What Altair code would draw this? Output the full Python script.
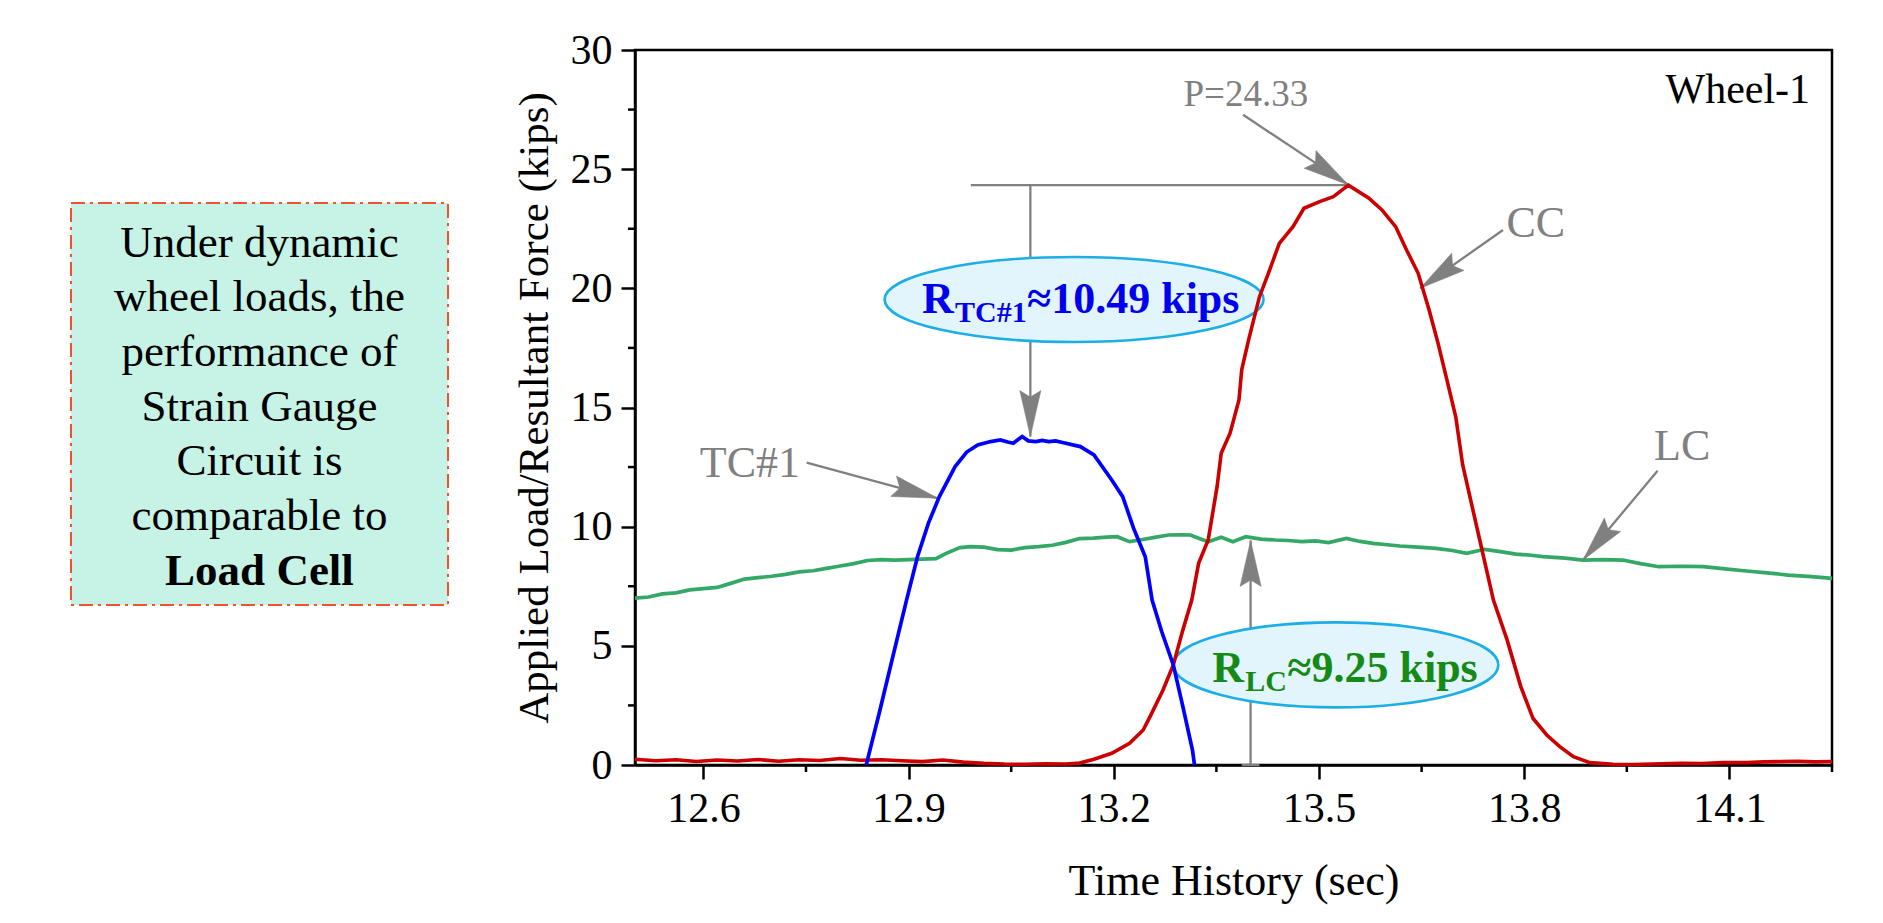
import math
import altair as alt
import pandas as pd

# ---------------- data ----------------
# TC#1 (strain gauge circuit)
tc1_t = [12.838, 12.857, 12.877, 12.897, 12.913, 12.929, 12.945, 12.968, 12.985, 13.001,
         13.020, 13.034, 13.045, 13.053, 13.066, 13.075, 13.086, 13.095, 13.105, 13.115,
         13.125, 13.151, 13.171, 13.197, 13.213, 13.229, 13.246, 13.256, 13.270, 13.287,
         13.301, 13.315, 13.318]
tc1_v = [0.0, 2.17, 4.55, 6.92, 8.74, 10.15, 11.26, 12.52, 13.13, 13.43,
         13.57, 13.64, 13.55, 13.50, 13.78, 13.60, 13.57, 13.62, 13.57, 13.60,
         13.53, 13.36, 13.01, 11.96, 11.26, 9.93, 8.74, 6.92, 5.60, 4.20,
         2.45, 0.63, 0.0]

# CC (applied load)
cc_t = [12.50, 12.53, 12.56, 12.59, 12.62, 12.65, 12.68, 12.71, 12.74, 12.77,
        12.80, 12.83, 12.86, 12.89, 12.92, 12.95, 12.98, 13.01, 13.04, 13.07,
        13.10, 13.13, 13.15, 13.171, 13.197, 13.223, 13.243, 13.253, 13.272, 13.287,
        13.301, 13.314, 13.324, 13.338, 13.351, 13.357, 13.370, 13.383, 13.387, 13.397,
        13.413, 13.426, 13.442, 13.462, 13.478, 13.501, 13.521, 13.543, 13.573, 13.592,
        13.612, 13.628, 13.645, 13.661, 13.674, 13.687, 13.700, 13.710, 13.735, 13.755,
        13.775, 13.795, 13.813, 13.833, 13.852, 13.872, 13.896, 13.930, 13.960, 14.000,
        14.030, 14.060, 14.090, 14.125, 14.150, 14.175, 14.200, 14.225, 14.250]
cc_v = [0.24, 0.18, 0.22, 0.15, 0.21, 0.17, 0.23, 0.16, 0.22, 0.19,
        0.27, 0.20, 0.22, 0.18, 0.14, 0.21, 0.12, 0.07, 0.04, 0.03,
        0.05, 0.04, 0.08, 0.24, 0.49, 0.91, 1.47, 2.03, 3.15, 4.20,
        5.67, 6.92, 8.46, 9.44, 11.68, 13.08, 13.92, 15.32, 16.58, 17.83,
        19.65, 20.63, 21.89, 22.59, 23.36, 23.64, 23.85, 24.33, 23.78, 23.29,
        22.59, 21.61, 20.63, 19.09, 17.70, 16.16, 14.60, 12.60, 9.44, 6.92,
        5.25, 3.29, 1.95, 1.26, 0.77, 0.35, 0.10, 0.03, 0.02, 0.05,
        0.07, 0.06, 0.10, 0.10, 0.13, 0.14, 0.16, 0.13, 0.15]

# LC (load cell)
lc_t = [12.50, 12.52, 12.54, 12.56, 12.58, 12.60, 12.62, 12.64, 12.66, 12.68,
        12.70, 12.72, 12.74, 12.76, 12.78, 12.80, 12.82, 12.84, 12.86, 12.88,
        12.90, 12.92, 12.94, 12.955, 12.975, 12.99, 13.01, 13.03, 13.05, 13.07,
        13.09, 13.11, 13.13, 13.15, 13.17, 13.19, 13.205, 13.223, 13.24, 13.26,
        13.28, 13.30, 13.312, 13.325, 13.338, 13.357, 13.374, 13.393, 13.415, 13.436,
        13.455, 13.475, 13.495, 13.514, 13.54, 13.56, 13.579, 13.60, 13.618, 13.645,
        13.671, 13.695, 13.716, 13.742, 13.765, 13.788, 13.81, 13.827, 13.86, 13.886,
        13.915, 13.944, 13.97, 13.997, 14.03, 14.062, 14.09, 14.121, 14.155, 14.186,
        14.22, 14.25]
lc_v = [7.00, 7.05, 7.18, 7.22, 7.35, 7.40, 7.45, 7.62, 7.80, 7.86,
        7.92, 8.00, 8.10, 8.15, 8.25, 8.35, 8.45, 8.58, 8.62, 8.60,
        8.62, 8.64, 8.66, 8.88, 9.12, 9.16, 9.14, 9.04, 9.02, 9.12,
        9.16, 9.22, 9.34, 9.50, 9.52, 9.56, 9.58, 9.37, 9.45, 9.55,
        9.65, 9.66, 9.65, 9.50, 9.37, 9.56, 9.37, 9.58, 9.48, 9.44,
        9.42, 9.37, 9.40, 9.33, 9.51, 9.38, 9.30, 9.24, 9.19, 9.14,
        9.09, 9.00, 8.88, 9.05, 8.95, 8.85, 8.80, 8.74, 8.68, 8.60,
        8.62, 8.60, 8.45, 8.32, 8.34, 8.32, 8.24, 8.15, 8.06, 7.97,
        7.90, 7.83]

# axes
x_domain = [12.5, 14.25]
y_domain = [0, 30]
x_ticks = [12.6, 12.9, 13.2, 13.5, 13.8, 14.1]
x_minor = [12.75, 13.05, 13.35, 13.65, 13.95, 14.25]
y_ticks = [0, 5, 10, 15, 20, 25, 30]
y_minor = [2.5, 7.5, 12.5, 17.5, 22.5, 27.5]

# annotation texts
gray_labels = ["P=24.33", "CC", "TC#1", "LC"]
gray_label_t = [13.393, 13.817, 12.668, 14.031]
gray_label_v = [27.67, 22.17, 12.10, 12.80]
gray_label_size = [37, 44, 44, 44]

# arrows: from (t0, v0) to tip (t1, v1)
arrow_t0 = [13.389, 13.769, 12.751, 13.995, 13.078, 13.400]
arrow_v0 = [27.28, 22.45, 12.69, 12.35, 24.33, 0.0]
arrow_t1 = [13.543, 13.648, 12.943, 13.886, 13.078, 13.400]
arrow_v1 = [24.34, 20.00, 11.19, 8.60, 13.78, 9.42]
# plain connector lines
line_t0 = [12.991, 13.387]
line_v0 = [24.33, 0.0]
line_t1 = [13.543, 13.413]
line_v1 = [24.33, 0.0]

# result call-outs
callout_main = ["R", "R"]
callout_sub = ["TC#1", "LC"]
callout_rest = ["\u224810.49 kips", "\u22489.25 kips"]
callout_color = ["#0000ee", "#168a16"]
callout_t = [12.9196, 13.3440]
callout_v = [18.98, 3.49]
ellipse_t = [13.142, 13.5246]
ellipse_v = [19.53, 4.20]

box_lines = ["Under dynamic", "wheel loads, the", "performance of",
             "Strain Gauge", "Circuit is", "comparable to"]
box_bold = "Load Cell"

# ---------------- layout / style ----------------
W, H = 1197, 715
PX_T = W / (x_domain[1] - x_domain[0])
PX_V = H / (y_domain[1] - y_domain[0])
FONT = "Liberation Serif"
GRAY = "#808080"

xs = alt.Scale(domain=x_domain, nice=False, zero=False)
ys = alt.Scale(domain=y_domain, nice=False, zero=False)
x_axis = alt.Axis(values=x_ticks, format=".1f", title="Time History (sec)", grid=False,
                  tickSize=14, tickWidth=2.5, tickColor="black", domainColor="black",
                  domainWidth=2.5, labelFont=FONT, labelFontSize=42, labelColor="black",
                  labelPadding=9, labelFlush=False, titleFont=FONT, titleFontSize=44,
                  titleFontWeight="normal", titleColor="black", titlePadding=30)
y_axis = alt.Axis(values=y_ticks, format="d", title="Applied Load/Resultant Force (kips)",
                  grid=False, tickSize=14, tickWidth=2.5, tickColor="black",
                  domainColor="black", domainWidth=2.5, labelFont=FONT, labelFontSize=42,
                  labelColor="black", labelPadding=9, labelFlush=False, titleFont=FONT,
                  titleFontSize=43, titleFontWeight="normal", titleColor="black",
                  titlePadding=14)
X = alt.X("t:Q", scale=xs, axis=x_axis)
Y = alt.Y("v:Q", scale=ys, axis=y_axis)


def series(ts, vs):
    return pd.DataFrame({"t": ts, "v": vs})


lc_line = alt.Chart(series(lc_t, lc_v)).mark_line(color="#33a867", strokeWidth=3.7).encode(x=X, y=Y)
cc_line = alt.Chart(series(cc_t, cc_v)).mark_line(color="#cc0000", strokeWidth=3.6).encode(x=X, y=Y)
tc_line = alt.Chart(series(tc1_t, tc1_v)).mark_line(color="#0000ff", strokeWidth=3.7).encode(x=X, y=Y)

# minor ticks
xminor = alt.Chart(pd.DataFrame({"t": x_minor})).mark_rule(color="black", strokeWidth=2.5).encode(
    x=X, y=alt.value(H), y2=alt.value(H + 7))
yminor = alt.Chart(pd.DataFrame({"v": y_minor})).mark_rule(color="black", strokeWidth=2.5).encode(
    y=Y, x=alt.value(0), x2=alt.value(-7))

# arrows
arr = pd.DataFrame({"t": arrow_t0, "v": arrow_v0, "t2": arrow_t1, "v2": arrow_v1})
ang = []
for a, b, c, d in zip(arrow_t0, arrow_v0, arrow_t1, arrow_v1):
    dx = (c - a) * PX_T
    dy = -(d - b) * PX_V
    ang.append(math.degrees(math.atan2(dx, -dy)) % 360)
heads = pd.DataFrame({"t": arrow_t1, "v": arrow_v1, "ang": ang})
shafts = alt.Chart(arr).mark_rule(color=GRAY, strokeWidth=2.3).encode(
    x=X, y=Y, x2="t2:Q", y2="v2:Q")
plain = alt.Chart(pd.DataFrame({"t": line_t0, "v": line_v0, "t2": line_t1, "v2": line_v1})).mark_rule(
    color=GRAY, strokeWidth=2.3).encode(x=X, y=Y, x2="t2:Q", y2="v2:Q")
head_path = "M0,0L0.46,2L0,1.72L-0.46,2Z"
head_mark = alt.Chart(heads).mark_point(shape=head_path, size=2116, filled=True, fill=GRAY,
                                        stroke=GRAY, strokeWidth=0.5, opacity=1).encode(
    x=X, y=Y, angle=alt.Angle("ang:Q", scale=None))

# ellipses
def ellipse(i, width_px, height_px):
    ry = height_px / width_px
    path = f"M-1,0A1,{ry:.4f} 0 1,1 1,0A1,{ry:.4f} 0 1,1 -1,0Z"
    return alt.Chart(pd.DataFrame({"t": [ellipse_t[i]], "v": [ellipse_v[i]]})).mark_point(
        shape=path, size=width_px ** 2, filled=True, fill="#e3f5fc", stroke="#1eaee6",
        strokeWidth=2.6, opacity=1, fillOpacity=1, strokeOpacity=1).encode(x=X, y=Y)

ell1 = ellipse(0, 379, 85)
ell2 = ellipse(1, 325, 85)

# call-out texts (main letter, subscript, remainder)
sub_offset = [33, 33]
rest_offset = [33 + 72, 33 + 42]
co = pd.DataFrame({
    "main": callout_main, "sub": callout_sub, "rest": callout_rest, "col": callout_color,
    "t": callout_t, "v": callout_v,
    "ts": [t + o / PX_T for t, o in zip(callout_t, sub_offset)],
    "vs": [v - 9 / PX_V for v in callout_v],
    "tr": [t + o / PX_T for t, o in zip(callout_t, rest_offset)],
})
co_main = alt.Chart(co).mark_text(font=FONT, fontSize=44, fontWeight="bold", align="left",
                                  baseline="alphabetic").encode(
    x=X, y=Y, text="main:N", color=alt.Color("col:N", scale=None))
co_sub = alt.Chart(co).mark_text(font=FONT, fontSize=30, fontWeight="bold", align="left",
                                 baseline="alphabetic").encode(
    x=alt.X("ts:Q", scale=xs, axis=x_axis), y=alt.Y("vs:Q", scale=ys, axis=y_axis),
    text="sub:N", color=alt.Color("col:N", scale=None))
co_rest = alt.Chart(co).mark_text(font=FONT, fontSize=44, fontWeight="bold", align="left",
                                  baseline="alphabetic").encode(
    x=alt.X("tr:Q", scale=xs, axis=x_axis), y=Y, text="rest:N",
    color=alt.Color("col:N", scale=None))

# gray labels
gl = pd.DataFrame({"txt": gray_labels, "t": gray_label_t, "v": gray_label_v, "fs": gray_label_size})
gray_text = alt.Chart(gl).mark_text(font=FONT, color=GRAY, align="center",
                                    baseline="alphabetic").encode(
    x=X, y=Y, text="txt:N", size=alt.Size("fs:Q", scale=None))

wheel = alt.Chart(pd.DataFrame({"txt": ["Wheel-1"], "t": [14.218], "v": [27.78]})).mark_text(
    font=FONT, fontSize=42, color="black", align="right", baseline="alphabetic").encode(
    x=X, y=Y, text="txt:N")

# left text box (outside the plot area)
one = pd.DataFrame({"a": [0]})
box = alt.Chart(one).mark_rect(fill="#c7f3e6", stroke="#f0532b", strokeWidth=2,
                               strokeDash=[14, 5, 3, 5]).encode(
    x=alt.value(-564), x2=alt.value(-187), y=alt.value(153), y2=alt.value(555))
box_text = alt.Chart(pd.DataFrame({"txt": ["\n".join(box_lines)]})).mark_text(
    font=FONT, fontSize=45, color="black", align="center", baseline="alphabetic",
    lineBreak="\n", lineHeight=54.7).encode(
    x=alt.value(-375.5), y=alt.value(206.7), text="txt:N")
box_text_b = alt.Chart(pd.DataFrame({"txt": [box_bold]})).mark_text(
    font=FONT, fontSize=45, fontWeight="bold", color="black", align="center",
    baseline="alphabetic").encode(
    x=alt.value(-375.5), y=alt.value(206.7 + 6 * 54.7), text="txt:N")

chart = alt.layer(
    lc_line, xminor, yminor, plain, shafts, head_mark, ell1, ell2,
    cc_line, tc_line,
    co_main, co_sub, co_rest, gray_text, wheel,
    box, box_text, box_text_b,
).properties(
    width=W, height=H,
    padding={"left": 627, "top": 42, "right": 35, "bottom": 150},
    autosize=alt.AutoSizeParams(type="none"),
    background="white",
).configure_view(stroke="black", strokeWidth=2.5)

chart.save("out.html", embed_options={"renderer": "svg", "actions": False})
